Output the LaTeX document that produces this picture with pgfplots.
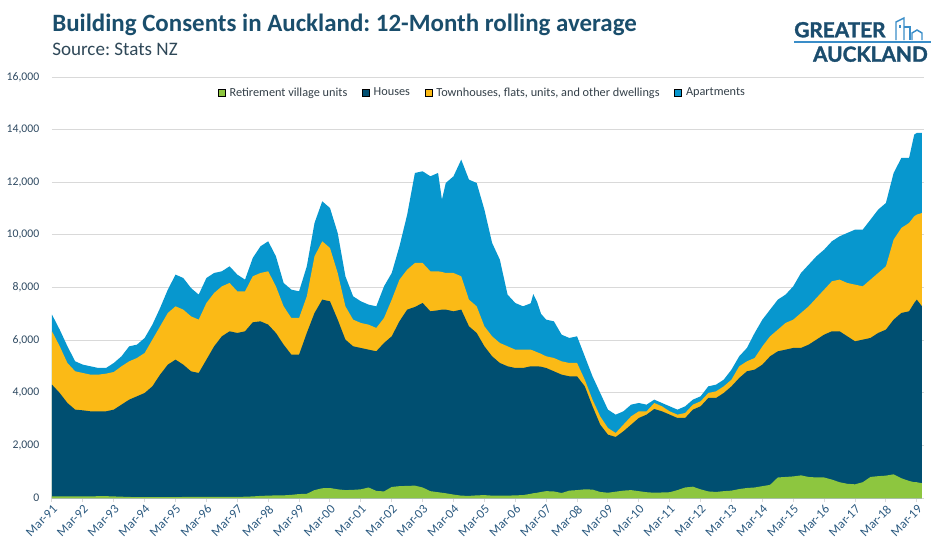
\documentclass[border=0pt]{standalone}
\usepackage{pgfplots}
\usepackage{pgfplotstable}
\pgfplotsset{compat=1.18}
\usepackage{fontspec}
\setmainfont{Carlito}
\newfontfamily\logofont{Lato}[BoldFeatures={FakeBold=1.6}]
\frenchspacing
\definecolor{cGreen}{HTML}{8DC63F}
\definecolor{cHouse}{HTML}{004F71}
\definecolor{cTown}{HTML}{FBBA16}
\definecolor{cApt}{HTML}{0797CE}
\definecolor{cTitle}{HTML}{1A4E6C}
\definecolor{cSub}{HTML}{2F4858}
\definecolor{cTick}{HTML}{2C5A80}
\definecolor{cYTick}{HTML}{2F4A62}
\definecolor{cLeg}{HTML}{333F48}
\definecolor{cGrid}{HTML}{D9D9D9}
\definecolor{cLogo}{HTML}{1B4D6E}
\definecolor{cLogoL}{HTML}{3A8DC8}

\pgfplotstableread{
m G H Tw T
0 60 4308 6335 6969
3 60 3991 5765 6398
6 60 3611 5131 5765
9 60 3358 4815 5195
12 60 3332 4751 5068
15 60 3294 4688 5005
18 70 3294 4688 4941
21 70 3294 4726 4941
24 60 3358 4789 5131
27 50 3548 5005 5385
30 40 3738 5195 5765
33 30 3864 5321 5828
36 30 3991 5511 6082
39 30 4244 6018 6588
42 30 4688 6525 7222
45 30 5068 7032 7919
48 30 5258 7285 8489
51 40 5068 7159 8362
54 40 4815 6905 7982
57 40 4751 6778 7729
60 40 5258 7412 8362
63 40 5765 7792 8552
66 40 6145 8045 8616
69 40 6335 8172 8806
72 40 6272 7855 8489
75 50 6335 7855 8299
78 60 6677 8426 9122
81 80 6715 8552 9566
84 90 6588 8616 9756
87 100 6272 8045 9186
90 100 5828 7285 8172
93 120 5448 6842 7919
96 150 5448 6842 7855
99 160 6272 7665 8806
102 300 7032 9186 10453
105 370 7539 9756 11276
108 380 7475 9503 11023
111 330 6778 8552 10073
114 300 6018 7285 8426
117 310 5765 6778 7665
120 330 5702 6652 7475
123 400 5638 6588 7349
126 270 5575 6462 7285
129 250 5892 6842 8045
132 420 6145 7539 8552
135 450 6715 8299 9566
138 460 7159 8679 10770
141 470 7260 8932 12353
144 400 7412 8932 12417
147 260 7095 8616 12227
150 220 7133 8616 12353
151.5 200 7159 8590 11340
153 180 7159 8552 11973
156 130 7095 8552 12227
159 90 7159 8426 12860
162 80 6525 7539 12100
165 100 6272 7285 11973
168 110 5765 6525 10960
171 90 5385 6145 9693
174 90 5131 5892 9059
177 90 5005 5765 7729
180 100 4941 5638 7412
183 110 4941 5638 7285
186 160 5005 5638 7400
187 180 5005 5600 7750
188.5 200 5005 5540 7450
190 230 4990 5480 7000
192 260 4941 5385 6778
195 250 4815 5321 6715
198 190 4688 5195 6208
201 280 4625 5131 6082
204 300 4625 5131 6145
207 330 4244 4498 5385
210 320 3484 3738 4625
213 230 2787 3104 3991
216 200 2407 2661 3358
219 240 2319 2471 3168
222 280 2534 2787 3294
225 300 2787 3104 3548
228 260 3041 3294 3611
231 220 3168 3294 3548
234 200 3383 3611 3738
237 210 3294 3484 3611
240 220 3168 3294 3484
243 300 3041 3168 3358
246 400 3041 3231 3484
249 430 3358 3548 3738
252 330 3484 3674 3864
255 250 3801 3991 4244
258 230 3801 4054 4308
261 260 3991 4244 4498
264 280 4244 4498 4878
267 340 4561 5005 5385
270 380 4815 5195 5702
273 400 4878 5321 6272
276 450 5068 5765 6778
279 500 5385 6145 7159
282 780 5575 6398 7539
285 800 5638 6652 7729
288 820 5702 6778 8045
291 860 5702 7032 8552
294 800 5828 7285 8869
297 780 6018 7602 9186
300 780 6208 7919 9439
303 700 6335 8236 9756
306 600 6335 8299 9946
309 540 6145 8172 10073
312 520 5955 8109 10199
315 600 6018 8045 10199
318 800 6082 8299 10579
321 830 6272 8552 10960
324 850 6398 8806 11213
327 900 6778 9819 12353
330 750 7032 10263 12923
333 650 7095 10453 12923
335 600 7412 10706 13810
336 600 7539 10770 13874
338 560 7285 10833 13874
}\data

\begin{document}
\begin{tikzpicture}
\path[use as bounding box] (0pt,0pt) rectangle (712.5pt,-412.5pt);
\begin{axis}[
  at={(39pt,-373.5pt)}, anchor=south west,
  width=654pt, height=315.75pt, scale only axis,
  xmin=0, xmax=338.8, ymin=0, ymax=16000,
  axis lines*=left,
  x axis line style={draw=cGrid, line width=0.75pt, -},
  y axis line style={draw=none},
  ymajorgrids, grid style={draw=cGrid, line width=0.75pt},
  ytick={0,2000,...,16000},
  xtick={0,12,...,336},
  xticklabels={Mar-91,Mar-92,Mar-93,Mar-94,Mar-95,Mar-96,Mar-97,Mar-98,Mar-99,Mar-00,Mar-01,Mar-02,Mar-03,Mar-04,Mar-05,Mar-06,Mar-07,Mar-08,Mar-09,Mar-10,Mar-11,Mar-12,Mar-13,Mar-14,Mar-15,Mar-16,Mar-17,Mar-18,Mar-19},
  tick align=outside,
  major tick length=3pt,
  xtick style={draw=cGrid, line width=0.75pt},
  ytick style={draw=none},
  scaled y ticks=false,
  yticklabel style={/pgf/number format/.cd, 1000 sep={,}, assume math mode=true, /tikz/.cd,
     font=\fontsize{8.8}{10}\selectfont, text=cYTick, xshift=-3pt},
  xticklabel style={rotate=45, anchor=north east, font=\fontsize{9.6}{11}\selectfont, text=cTick, inner sep=1pt},
  legend style={at={(0.494,0.962)}, anchor=center, draw=none, fill=none,
     legend columns=-1, font=\fontsize{9.2}{11}\selectfont, text=cLeg,
     /tikz/every even column/.append style={column sep=9pt},
     /tikz/every odd column/.append style={column sep=1pt}},
  legend image code/.code={\fill[#1] (0pt,-2.7pt) rectangle (5.4pt,2.7pt);},
]
\addlegendimage{fill=cGreen}
\addlegendentry{Retirement village units}
\addlegendimage{fill=cHouse}
\addlegendentry{Houses}
\addlegendimage{fill=cTown}
\addlegendentry{Townhouses, flats, units, and other dwellings}
\addlegendimage{fill=cApt}
\addlegendentry{Apartments}
\addplot[fill=cApt, draw=none, forget plot] table[x=m, y=T]{\data} \closedcycle;
\addplot[fill=cTown, draw=none, forget plot] table[x=m, y=Tw]{\data} \closedcycle;
\addplot[fill=cHouse, draw=none, forget plot] table[x=m, y=H]{\data} \closedcycle;
\addplot[fill=cGreen, draw=none, forget plot] table[x=m, y=G]{\data} \closedcycle;
\end{axis}
\begin{scope}[x=0.75pt, y=-0.75pt]
\node[anchor=base west, inner sep=0pt, text=cTitle, font=\bfseries\fontsize{18.7}{20}\selectfont] at (52,31.7) {Building Consents in Auckland: 12-Month rolling average};
\node[anchor=base west, inner sep=0pt, text=cSub, font=\fontsize{14.3}{16}\selectfont] at (52,55.7) {Source: Stats NZ};
\node[anchor=base west, inner sep=0pt, text=cLogo, font=\logofont\bfseries\fontsize{15.6}{16}\selectfont] at (794,37.3) {GREATER};
\node[anchor=base east, inner sep=0pt, text=cLogo, font=\logofont\bfseries\fontsize{15.6}{16}\selectfont] at (928,61.7) {AUCKLAND};
\draw[cLogoL, line width=1.5pt] (794,41.7) -- (931,41.7);
\draw[cLogoL, line width=1.1pt] (896,40) -- (896,22) -- (904,18) -- (904,40);
\draw[cLogoL, line width=1.1pt] (904,27) -- (910,27) -- (910,40);
\draw[cLogoL, line width=1.1pt] (912,40) -- (912,33) -- (917,30) -- (922,33) -- (922,40);
\fill[cLogoL] (899,25) rectangle (901,28);
\end{scope}
\end{tikzpicture}
\end{document}
